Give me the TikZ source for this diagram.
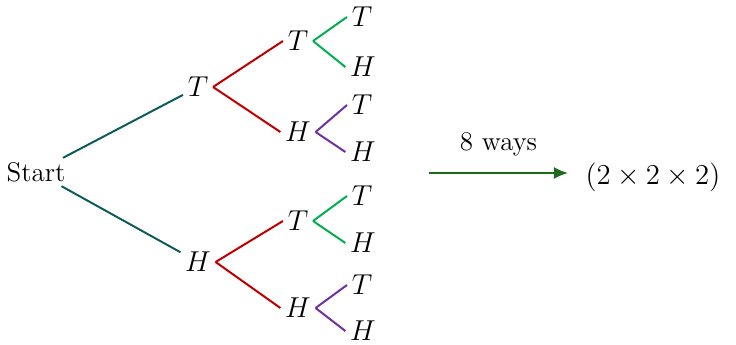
\documentclass[tikz,border=0pt]{standalone}
\usepackage{tikz}
\usepackage{xcolor}
\usetikzlibrary{arrows.meta}
\definecolor{stemcol}{HTML}{0E5C5A}
\definecolor{redcol}{HTML}{C00000}
\definecolor{greencol}{HTML}{00B050}
\definecolor{purplecol}{HTML}{7030A0}
\definecolor{arrowcol}{HTML}{1C6B1C}

\begin{document}
\begin{tikzpicture}[x=0.5pt, y=-0.5pt,
        every node/.style={font=\fontsize{13.5}{16}\selectfont, inner sep=2pt},
        letter/.style={font=\Large, inner sep=2.2pt},
        stem/.style={draw=stemcol, line width=1pt},
        redline/.style={draw=redcol, line width=1pt},
        greenline/.style={draw=greencol, line width=1pt},
        purpleline/.style={draw=purplecol, line width=1pt},
        arrow/.style={-{Latex[length=7pt, width=6pt]}, draw=arrowcol, line width=1pt}]
        \useasboundingbox (0,0) rectangle (736,344);

        \node (st) at (36,172) {Start};
        \node[letter] (t) at (198,87) {$T$};
        \node[letter] (h) at (198,262) {$H$};

        \node[letter] (tt) at (298,41) {$T$};
        \node[letter] (th) at (298,132) {$H$};
        \node[letter] (ht) at (298,221) {$T$};
        \node[letter] (hh) at (298,308) {$H$};

        \node[letter] (ttt) at (362,17) {$T$};
        \node[letter] (tth) at (363,67) {$H$};
        \node[letter] (tht) at (362,105) {$T$};
        \node[letter] (thh) at (363,152) {$H$};
        \node[letter] (htt) at (362,196) {$T$};
        \node[letter] (hth) at (363,243) {$H$};
        \node[letter] (hht) at (362,285) {$T$};
        \node[letter] (hhh) at (363,331) {$H$};

        \draw[stem] (st) -- (t);
        \draw[stem] (st) -- (h);

        \draw[redline] (t.east) -- (tt.west);
        \draw[redline] (t.east) -- (th.west);
        \draw[redline] (h.east) -- (ht.west);
        \draw[redline] (h.east) -- (hh.west);

        \draw[greenline] (tt.east) -- (ttt.west);
        \draw[greenline] (tt.east) -- (tth.west);
        \draw[purpleline] (th.east) -- (tht.west);
        \draw[purpleline] (th.east) -- (thh.west);
        \draw[greenline] (ht.east) -- (htt.west);
        \draw[greenline] (ht.east) -- (hth.west);
        \draw[purpleline] (hh.east) -- (hht.west);
        \draw[purpleline] (hh.east) -- (hhh.west);

        % result
        \coordinate (from) at (429,173);
        \coordinate (to) at (568,173);
        \draw[arrow] (from) -- node[above=6pt] (ways) {8 ways} (to);
        \node[font=\Large] (prod) at (653,177) {$(2\times 2\times 2)$};
\end{tikzpicture}
\end{document}
